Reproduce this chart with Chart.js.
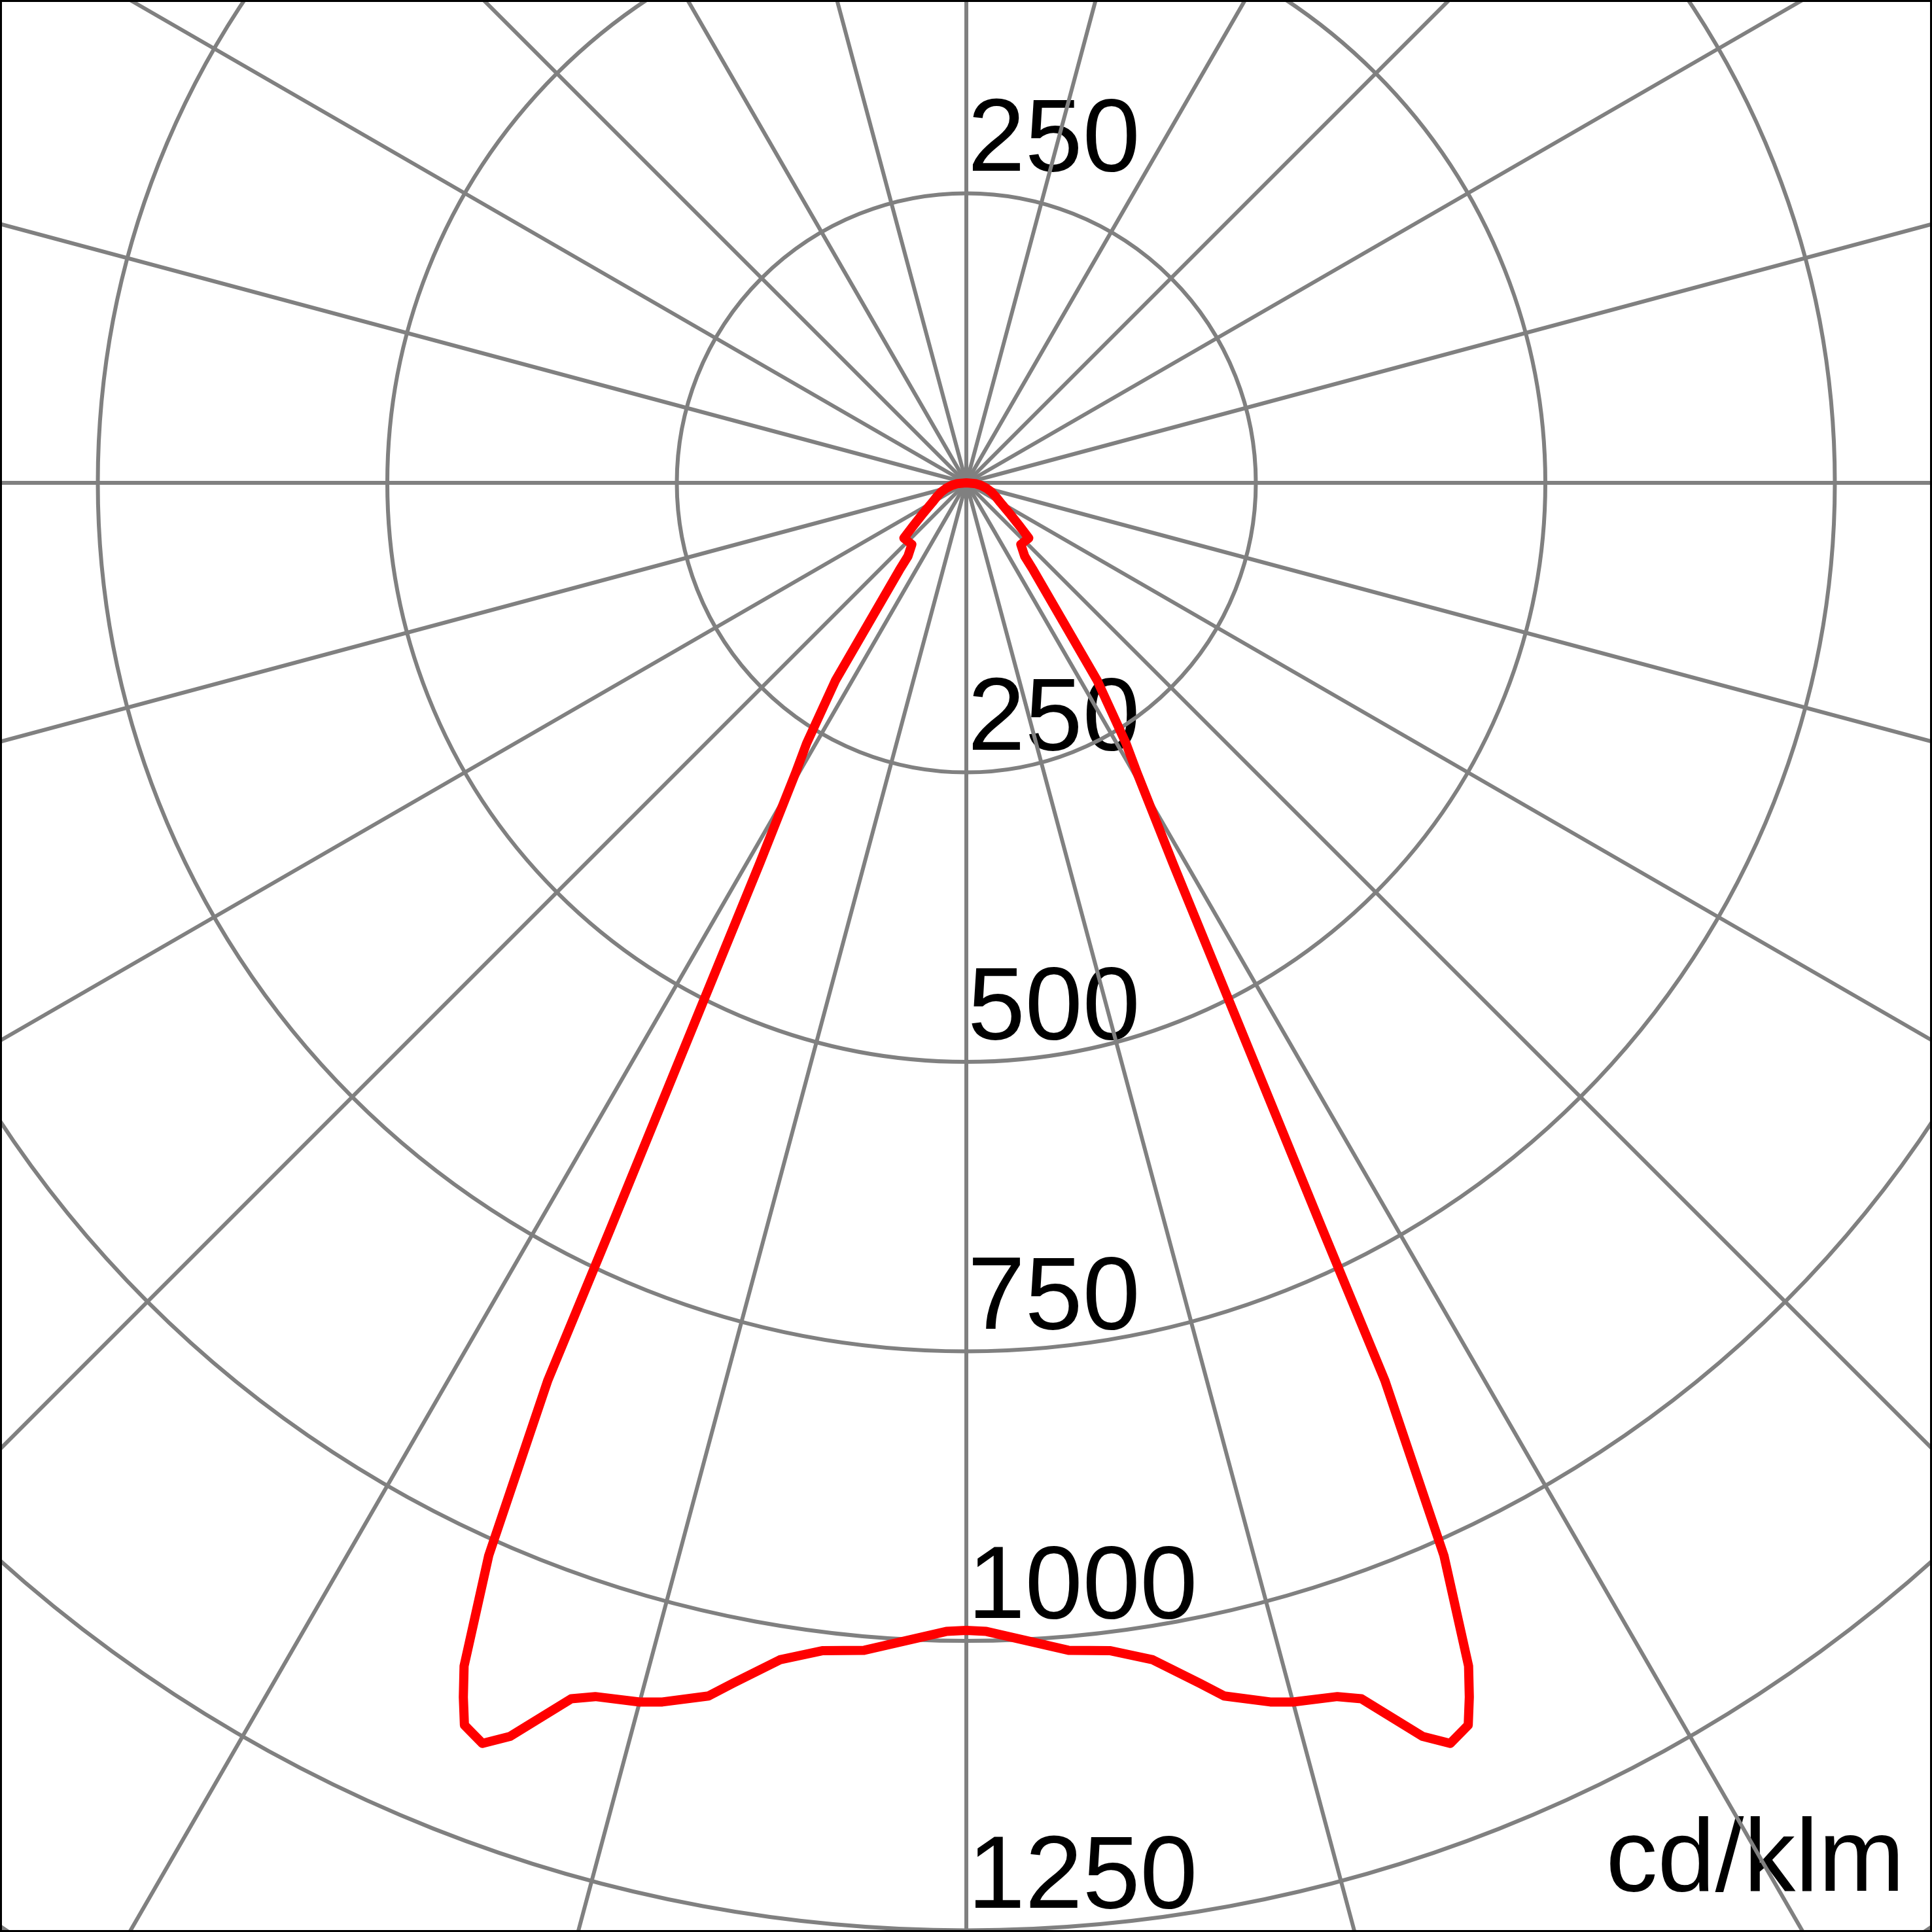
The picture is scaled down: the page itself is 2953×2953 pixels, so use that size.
<!DOCTYPE html>
<html>
<head>
<meta charset="utf-8">
<script src="https://cdn.jsdelivr.net/npm/chart.js@4.4.1/dist/chart.umd.min.js"></script>
<style>
    html, body { margin: 0; padding: 0; background: #fff; }
    #page { position: relative; width: 2953px; height: 2953px; overflow: hidden; background: #fff; }
    #polarChart { position: absolute; left: -1178px; top: -1917px; }
    #frame { position: absolute; left: 0; top: 0; width: 2953px; height: 2953px; box-sizing: border-box; border: 3px solid #000; pointer-events: none; }
</style>
</head>
<body>
<div id="page">
    <canvas id="polarChart" width="5310" height="5310"></canvas>
    <div id="frame"></div>
</div>
<script>
// gamma angle (deg, 0 = straight down) and intensity in cd/klm, same on both sides
const gammaAngles = [0, 1, 5, 7, 9, 11, 12, 14, 15, 17, 18, 20, 21, 22, 22.5, 23, 24, 25, 25.5,
    28.5, 30.5, 31.5, 33.5, 37.5, 38.5, 41.5, 48.5, 51, 55, 60, 65, 70, 75, 80, 85, 90, 180];
const intensity = [991, 992, 1012, 1016, 1029, 1056, 1071, 1085, 1090, 1096, 1104, 1152, 1166, 1157, 1135, 1110, 1014, 855, 715,
    374, 290, 264, 205, 95, 81, 71, 72, 59, 45, 34, 28, 23, 18, 13, 8, 0, 0];

const tickValues = [250, 500, 750, 1000, 1250];
const tickLabels = ['250', '500', '750', '1000', '1250'];
const unitLabel = 'cd/klm';

const angleStep = 0.5;
const labelCount = 360 / angleStep;

const angleLabels = [];
for (let i = 0; i < labelCount; i++) {
    angleLabels.push(String(i * angleStep));
}

// radar index 0 points up, clockwise; gamma 0 is down
const curve = new Array(labelCount).fill(null);
gammaAngles.forEach(function (g, k) {
    curve[Math.round((180 - g) / angleStep) % labelCount] = intensity[k];
    curve[Math.round((180 + g) / angleStep) % labelCount] = intensity[k];
});

const textFont = '158px "Liberation Sans", Arial, sans-serif';

const labelPlugin = {
    id: 'polarLabels',
    beforeDraw(chart) {
        const scale = chart.scales.r;
        const ctx = chart.ctx;
        ctx.save();
        ctx.font = textFont;
        ctx.fillStyle = '#000';
        ctx.textBaseline = 'alphabetic';
        ctx.textAlign = 'left';
        tickValues.forEach(function (v, i) {
            const d = scale.getDistanceFromCenterForValue(v);
            ctx.fillText(tickLabels[i], scale.xCenter + 2, scale.yCenter + d - 35);
            ctx.fillText(tickLabels[i], scale.xCenter + 2, scale.yCenter - d - 35);
        });
        ctx.textAlign = 'right';
        ctx.fillText(unitLabel, scale.xCenter + 1434, scale.yCenter + 2152);
        ctx.restore();
    }
};

new Chart(document.getElementById('polarChart'), {
    type: 'radar',
    data: {
        labels: angleLabels,
        datasets: [{
            data: curve,
            borderColor: '#ff0000',
            borderWidth: 14,
            borderJoinStyle: 'round',
            fill: false,
            tension: 0,
            spanGaps: true,
            pointRadius: 0,
            pointHoverRadius: 0
        }]
    },
    options: {
        responsive: false,
        animation: false,
        events: [],
        layout: { padding: 0 },
        plugins: {
            legend: { display: false },
            tooltip: { enabled: false }
        },
        scales: {
            r: {
                min: 0,
                max: 1500,
                ticks: { stepSize: 250, display: false },
                pointLabels: { display: false },
                grid: { circular: true, color: '#808080', lineWidth: 6 },
                angleLines: {
                    color: '#808080',
                    lineWidth: function (ctx) {
                        return ctx.index % 30 === 0 ? 6 : 0;
                    }
                }
            }
        }
    },
    plugins: [labelPlugin]
});
</script>
</body>
</html>
